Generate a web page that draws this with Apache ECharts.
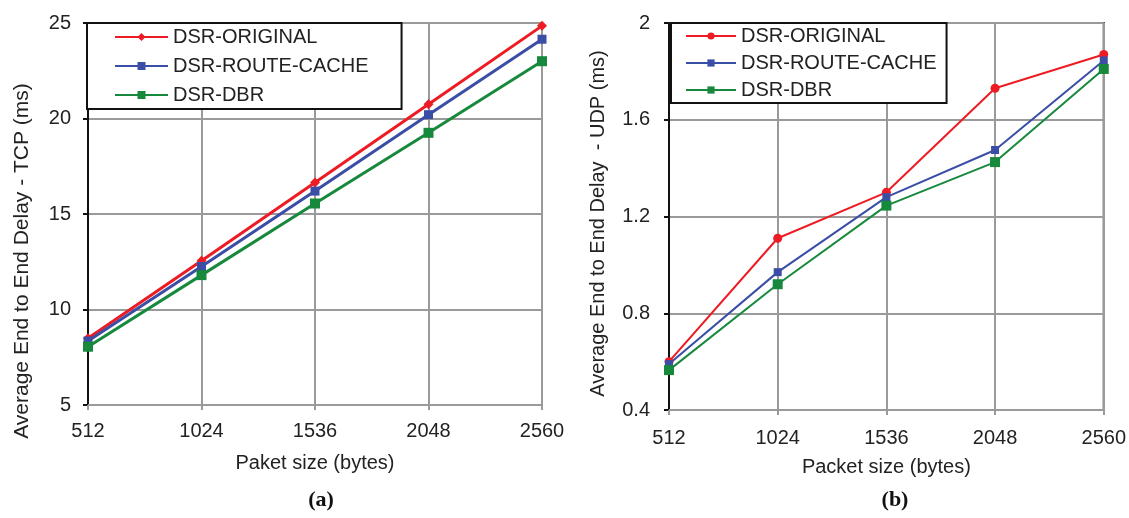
<!DOCTYPE html>
<html>
<head>
<meta charset="utf-8">
<script src="https://cdn.jsdelivr.net/npm/echarts@6/dist/echarts.min.js"></script>
<style>html,body{margin:0;padding:0;background:#fff}#c{width:1129px;height:518px}</style>
</head>
<body>
<div id="c"></div>
<script>
const categories = ['512', '1024', '1536', '2048', '2560'];
const seriesNames = ['DSR-ORIGINAL', 'DSR-ROUTE-CACHE', 'DSR-DBR'];
const tcpOriginal = [8.5, 12.55, 16.65, 20.75, 24.85];
const tcpRouteCache = [8.35, 12.25, 16.2, 20.2, 24.15];
const tcpDbr = [8.05, 11.8, 15.55, 19.25, 23.0];
const udpOriginal = [0.60, 1.11, 1.30, 1.73, 1.87];
const udpRouteCache = [0.59, 0.97, 1.28, 1.475, 1.845];
const udpDbr = [0.565, 0.92, 1.245, 1.425, 1.81];
const tcpTicks = {min: 5, max: 25, interval: 5};
const udpTicks = {min: 0.4, max: 2, interval: 0.4};

const FONT = 'Liberation Sans';
const RED = '#ed1c24', BLUE = '#3b4ea6', GREEN = '#17893c';
const GRIDC = '#9a9a9a';

function xAxis(gi, name, labelMargin, nameGap) {
  return {
    type: 'category', gridIndex: gi, data: categories, boundaryGap: false, z: 3,
    name: name, nameLocation: 'middle', nameGap: nameGap,
    nameTextStyle: {fontFamily: FONT, fontSize: 20, color: '#222'},
    axisLine: {lineStyle: {color: GRIDC, width: 2}},
    axisTick: {show: true, length: 5, lineStyle: {color: GRIDC, width: 2}},
    axisLabel: {fontFamily: FONT, fontSize: 20, color: '#222', margin: labelMargin},
    splitLine: {show: true, lineStyle: {color: GRIDC, width: 2}}
  };
}
function yAxis(gi, ticks, name, nameGap, labelMargin, pad, nameSize) {
  return {
    type: 'value', gridIndex: gi, min: ticks.min, max: ticks.max, interval: ticks.interval, z: 3,
    name: name, nameLocation: 'middle', nameGap: nameGap,
    nameTextStyle: {fontFamily: FONT, fontSize: nameSize, color: '#222', padding: pad},
    axisLine: {show: true, lineStyle: {color: '#111', width: 2}},
    axisTick: {show: true, length: 5, lineStyle: {color: '#111', width: 2}},
    axisLabel: {fontFamily: FONT, fontSize: 20, color: '#222', margin: labelMargin},
    splitLine: {show: true, lineStyle: {color: GRIDC, width: 2}}
  };
}
function line(name, data, gi, color, symbol, size, width) {
  return {
    name: name, type: 'line', xAxisIndex: gi, yAxisIndex: gi, data: data, z: 5,
    symbol: symbol, symbolSize: size, showSymbol: true,
    lineStyle: {color: color, width: width},
    itemStyle: {color: color},
    animation: false
  };
}

const chart = echarts.init(document.getElementById('c'));
chart.setOption({
  animation: false,
  backgroundColor: '#fff',
  title: [
    {text: '(a)', left: 316, top: 484, textAlign: 'center',
     textStyle: {fontFamily: 'Liberation Serif', fontWeight: 'bold', fontSize: 22, color: '#111'}},
    {text: '(b)', left: 890, top: 484, textAlign: 'center',
     textStyle: {fontFamily: 'Liberation Serif', fontWeight: 'bold', fontSize: 22, color: '#111'}}
  ],
  grid: [
    {left: 88, top: 23, width: 454, height: 382, show: true, borderColor: '#111', borderWidth: 2, z: 2},
    {left: 669, top: 23, width: 435, height: 387, show: true, borderColor: '#111', borderWidth: 2, z: 2}
  ],
  legend: [
    {data: seriesNames, orient: 'vertical', left: 87, top: 23, z: 6,
     backgroundColor: '#fff', borderColor: '#111', borderWidth: 2,
     padding: [4, 33, 4, 27], itemWidth: 53, itemHeight: 10, itemGap: 9,
     textStyle: {fontFamily: FONT, fontSize: 20, color: '#222', lineHeight: 20}},
    {data: seriesNames.map(n => n + ' '), orient: 'vertical', left: 671, top: 23, z: 6,
     backgroundColor: '#fff', borderColor: '#111', borderWidth: 2,
     padding: [3, 10, 3, 14], itemWidth: 50, itemHeight: 9, itemGap: 7,
     formatter: n => n.trim(),
     textStyle: {fontFamily: FONT, fontSize: 20, color: '#222', lineHeight: 20}}
  ],
  xAxis: [xAxis(0, 'Paket size (bytes)', 16, 48), xAxis(1, 'Packet size (bytes)', 18, 47)],
  yAxis: [
    yAxis(0, tcpTicks, 'Average End to End Delay - TCP (ms)', 55, 17, [0, 94, 0, 0], 21),
    yAxis(1, udpTicks, 'Average End to End Delay  - UDP (ms)', 61, 19, [0, 14, 0, 0], 20)
  ],
  series: [
    line(seriesNames[0], tcpOriginal, 0, RED, 'diamond', 10, 3),
    line(seriesNames[1], tcpRouteCache, 0, BLUE, 'rect', 9, 3),
    line(seriesNames[2], tcpDbr, 0, GREEN, 'rect', 10, 3),
    line(seriesNames[0] + ' ', udpOriginal, 1, RED, 'circle', 9, 2),
    line(seriesNames[1] + ' ', udpRouteCache, 1, BLUE, 'rect', 8, 2),
    line(seriesNames[2] + ' ', udpDbr, 1, GREEN, 'rect', 10, 2)
  ]
});
</script>
</body>
</html>
